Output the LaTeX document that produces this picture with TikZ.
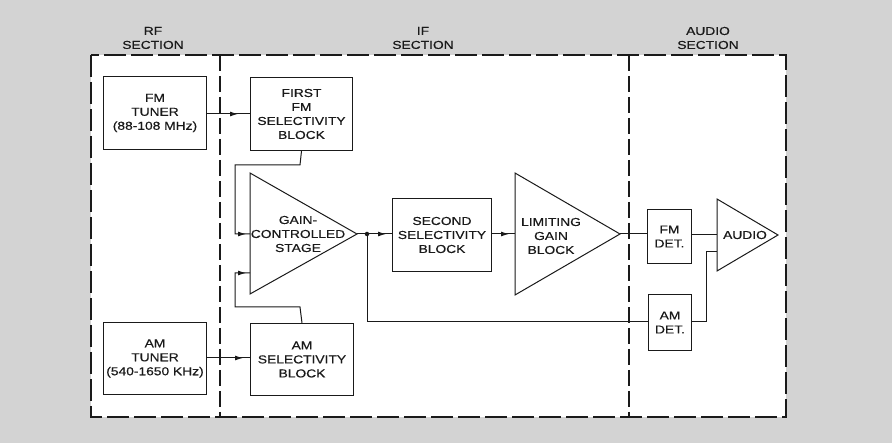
\documentclass[tikz,border=0pt]{standalone}
\usepackage{fontspec}
\newfontfamily\labfont[FakeStretch=1.2,FakeBold=0.4]{Liberation Sans}
\usetikzlibrary{arrows.meta,decorations.markings}
\definecolor{bggray}{HTML}{D3D3D3}
\definecolor{ink}{HTML}{1A1A1A}
\tikzset{
  ln/.style={draw=ink,line width=1pt},
  blk/.style={ln,fill=white,rectangle,inner sep=0pt,anchor=north west},
  lab/.style={font=\labfont\fontsize{11.5}{14}\selectfont,align=center,text=ink,inner sep=0pt},
  frame/.style={draw=ink,line width=1.2pt,dash pattern=on 22pt off 5pt},
  divider/.style={draw=ink,line width=1.1pt,dash pattern=on 16pt off 5pt},
  midarrow/.style={postaction={decorate},decoration={markings,mark=at position #1 with {\arrow{Latex[length=8pt,width=5pt]}}}},
  dotnode/.style={circle,fill=ink,inner sep=0pt,minimum size=4.5pt}
}
\begin{document}
\begin{tikzpicture}[x=1pt,y=-1pt]
\useasboundingbox (0,0) rectangle (892,443);
\fill[bggray] (0,0) rectangle (892,443);
\fill[white] (91,55) rectangle (786,417);
\draw[frame] (91,55) rectangle (786,417);
\draw[divider] (220,55) -- (220,417);
\draw[divider] (629,55) -- (629,417);
% section labels
\node[lab] (rflab) at (153,38) {RF\\SECTION};
\node[lab] (iflab) at (423,38) {IF\\SECTION};
\node[lab] (audlab) at (708,38) {AUDIO\\SECTION};
% blocks
\node[blk,minimum width=103pt,minimum height=73pt] (fmt) at (103,76) {};
\node[lab] at (fmt.center) {FM\\TUNER\\(88-108 MHz)};
\node[blk,minimum width=102pt,minimum height=73pt] (fm1) at (250,77) {};
\node[lab] at (fm1.center) {FIRST\\FM\\SELECTIVITY\\BLOCK};
\node[blk,minimum width=103pt,minimum height=72pt] (amt) at (103,322) {};
\node[lab] at (amt.center) {AM\\TUNER\\(540-1650 KHz)};
\node[blk,minimum width=103pt,minimum height=72pt] (ams) at (250,323) {};
\node[lab] at (ams.center) {AM\\SELECTIVITY\\BLOCK};
\node[blk,minimum width=99pt,minimum height=73pt] (sec) at (392,198) {};
\node[lab] at (sec.center) {SECOND\\SELECTIVITY\\BLOCK};
\node[blk,minimum width=44pt,minimum height=54pt] (fmd) at (647,209) {};
\node[lab] at (fmd.center) {FM\\DET.};
\node[blk,minimum width=43pt,minimum height=56pt] (amd) at (648,294) {};
\node[lab] at (amd.center) {AM\\DET.};
% triangles
\draw[ln,fill=white] (250,173) -- (357,234) -- (250,294) -- cycle;
\coordinate (gtip) at (357,234);
\coordinate (gin1) at (250,234);
\coordinate (gin2) at (250,273);
\node[lab] (gtxt) at (298,234) {GAIN-\\CONTROLLED\\STAGE};
\draw[ln,fill=white] (515,173) -- (620,234) -- (515,295) -- cycle;
\coordinate (ltip) at (620,234);
\coordinate (lin) at (515,234);
\node[lab] (ltxt) at (551,236) {LIMITING\\GAIN\\BLOCK};
\draw[ln,fill=white] (717,199) -- (778,235) -- (717,271) -- cycle;
\coordinate (ain1) at (717,235);
\coordinate (ain2) at (717,252);
\node[lab] (atxt) at (745,235) {AUDIO};
% connectors
\draw[ln,midarrow=-12pt] (fmt.east |- 0,114) -- (fm1.west |- 0,114);
\draw[ln,midarrow=-7pt] (amt.east |- 0,358) -- (ams.west |- 0,358);
\draw[ln,midarrow=-4pt] (fm1.south) -- (300,165) -- (235,165) -- (235,234) -- (gin1);
\draw[ln,midarrow=-4pt] (ams.north) -- (300,307) -- (235,307) -- (235,273) -- (gin2);
\node[dotnode] (dot) at (367,234) {};
\draw[ln] (gtip) -- (dot);
\draw[ln,midarrow=-6pt] (dot) -- (sec.west |- dot);
\draw[ln] (dot) -- (367,322) -- (amd.west |- 0,322);
\draw[ln,midarrow=-6pt] (sec.east |- lin) -- (lin);
\draw[ln] (ltip) -- (fmd.west |- ltip);
\draw[ln] (fmd.east |- ain1) -- (ain1);
\draw[ln] (amd.east |- 0,322) -- (706,322) -- (706,252) -- (ain2);
\end{tikzpicture}
\end{document}
